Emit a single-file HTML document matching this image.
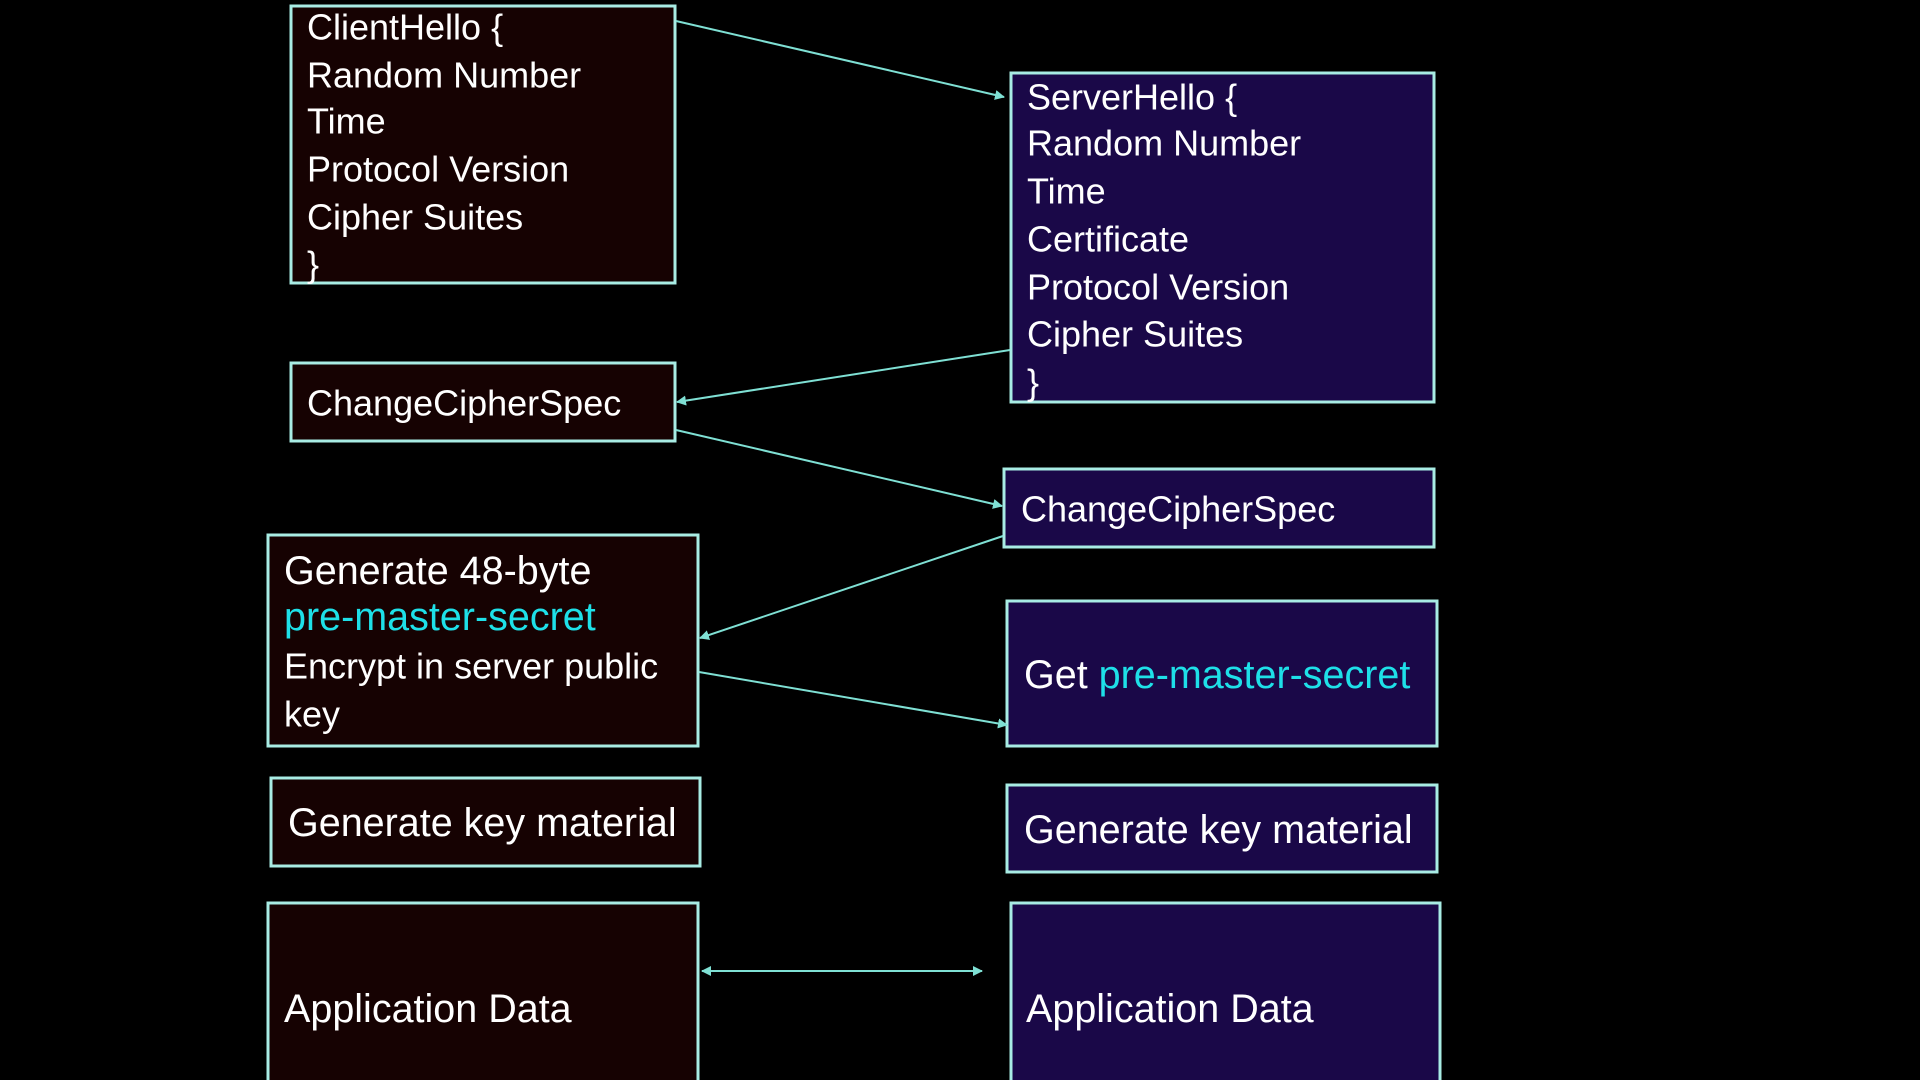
<!DOCTYPE html>
<html><head><meta charset="utf-8"><style>
html,body{margin:0;padding:0;background:#000;width:1920px;height:1080px;overflow:hidden}
svg{display:block}
.c{font-family:"Liberation Sans",sans-serif;font-size:36px;fill:#fff;dominant-baseline:central}
.a{font-family:"Liberation Sans",sans-serif;font-size:39.5px;fill:#fff;dominant-baseline:central}
.h{fill:#1ee0e8}
.L{fill:#160202;stroke:#a8ece4;stroke-width:3}
.R{fill:#1a0848;stroke:#a8ece4;stroke-width:3}
.ln{stroke:#7fe0d4;stroke-width:2;fill:none}
</style></head><body>
<svg width="1920" height="1080" viewBox="0 0 1920 1080">
<defs><marker id="m" markerWidth="10" markerHeight="10" refX="9" refY="5" orient="auto" markerUnits="userSpaceOnUse"><path d="M0,0 L10,5 L0,10 z" fill="#7fe0d4"/></marker>
<marker id="s" markerWidth="10" markerHeight="10" refX="1" refY="5" orient="auto" markerUnits="userSpaceOnUse"><path d="M10,0 L0,5 L10,10 z" fill="#7fe0d4"/></marker></defs>
<rect class="L" x="291" y="6" width="384" height="277"/>
<rect class="R" x="1011" y="73" width="423" height="329"/>
<rect class="L" x="291" y="363" width="384" height="78"/>
<rect class="R" x="1004" y="469" width="430" height="78"/>
<rect class="L" x="268" y="535" width="430" height="211"/>
<rect class="R" x="1007" y="601" width="430" height="145"/>
<rect class="L" x="271" y="778" width="429" height="88"/>
<rect class="R" x="1007" y="785" width="430" height="87"/>
<rect class="L" x="268" y="903" width="430" height="190"/>
<rect class="R" x="1011" y="903" width="429" height="190"/>

<line class="ln" x1="676" y1="21" x2="1004" y2="97" marker-end="url(#m)"/>
<line class="ln" x1="1010" y1="350" x2="677" y2="402" marker-end="url(#m)"/>
<line class="ln" x1="676" y1="430" x2="1002" y2="506" marker-end="url(#m)"/>
<line class="ln" x1="1003" y1="536" x2="700" y2="638" marker-end="url(#m)"/>
<line class="ln" x1="699" y1="672" x2="1007" y2="725" marker-end="url(#m)"/>
<line class="ln" x1="702" y1="971" x2="982" y2="971" marker-start="url(#s)" marker-end="url(#m)"/>

<text class="c" x="307" y="27">ClientHello {</text>
<text class="c" x="307" y="75">Random Number</text>
<text class="c" x="307" y="121">Time</text>
<text class="c" x="307" y="169">Protocol Version</text>
<text class="c" x="307" y="217">Cipher Suites</text>
<text class="c" x="307" y="264">}</text>

<text class="c" x="1027" y="97">ServerHello {</text>
<text class="c" x="1027" y="143">Random Number</text>
<text class="c" x="1027" y="191">Time</text>
<text class="c" x="1027" y="239">Certificate</text>
<text class="c" x="1027" y="287">Protocol Version</text>
<text class="c" x="1027" y="334">Cipher Suites</text>
<text class="c" x="1027" y="382">}</text>

<text class="c" x="307" y="403">ChangeCipherSpec</text>
<text class="c" x="1021" y="509">ChangeCipherSpec</text>

<text class="a" x="284" y="571">Generate 48-byte</text>
<text class="a h" x="284" y="617">pre-master-secret</text>
<text class="c" x="284" y="666">Encrypt in server public</text>
<text class="c" x="284" y="714">key</text>

<text class="a" x="1024" y="675">Get <tspan class="h">pre-master-secret</tspan></text>
<text class="a" x="288" y="823">Generate key material</text>
<text class="a" x="1024" y="830">Generate key material</text>
<text class="a" x="284" y="1009">Application Data</text>
<text class="a" x="1026" y="1009">Application Data</text>
</svg>
</body></html>
